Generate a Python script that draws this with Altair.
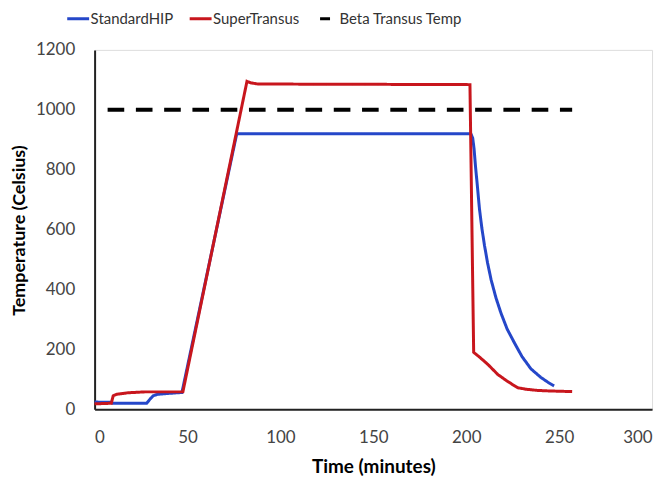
import altair as alt
import pandas as pd

# StandardHIP series (time in minutes, temperature in Celsius)
std_t = [0, 9, 9.5, 28, 30, 31.5, 34, 40, 47, 76.5, 90, 150, 202.5, 203.5, 204.2, 205,
         206, 207.1, 208.4, 209.8, 211.5, 213.4, 216, 218.7, 222, 225.9, 230, 234.8,
         240, 244, 247.3]
std_v = [24, 23, 20, 20, 35, 45, 50, 53, 56, 920, 920, 920, 920, 905, 870, 810,
         745, 670, 605, 548, 488, 432, 372, 321, 268, 222, 176, 135,
         107, 90, 78]

# SuperTransus series
sup_t = [0, 9, 10, 12, 18, 27, 47.5, 82, 84, 88, 150, 202, 204, 207, 211.6, 217,
         222, 227.6, 232, 238, 245, 257]
sup_v = [18, 20, 45, 50, 55, 58, 58, 1095, 1090, 1086, 1085, 1084, 190, 175, 150, 116,
         94, 72, 67, 63, 61, 59]

# Beta transus temperature reference line
beta_t = [7, 257]
beta_v = [1000, 1000]

series = ["StandardHIP", "SuperTransus", "Beta Transus Temp"]
colors = ["#2547c9", "#c8161d", "#000000"]
legend_dashes = [[1, 0], [1, 0], [0, 4, 10, 40]]
x_ticks = [0, 50, 100, 150, 200, 250, 300]
y_ticks = [0, 200, 400, 600, 800, 1000, 1200]

df_lines = pd.concat([
    pd.DataFrame({"t": std_t, "v": std_v, "s": series[0]}),
    pd.DataFrame({"t": sup_t, "v": sup_v, "s": series[1]}),
], ignore_index=True)
df_beta = pd.DataFrame({"t": beta_t, "v": beta_v, "s": series[2]})

FONT = "Lato"

legend = alt.Legend(
    orient="none", legendX=-29, legendY=-44, direction="horizontal", title=None,
    padding=0,
    symbolType="stroke", symbolSize=484, symbolStrokeWidth=3,
    labelFont=FONT, labelFontSize=15, labelColor="#333333",
    columnPadding=10, labelOffset=0,
    labelExpr="datum.label == 'Beta Transus Temp' ? '\u00a0\u00a0\u00a0' + datum.label : datum.label",
)

xenc = alt.X("t:Q", scale=alt.Scale(domain=[0, 300], nice=False),
             axis=alt.Axis(values=x_ticks, grid=False, ticks=False, tickSize=0, format="d",
                           labelPadding=20, labelFont=FONT, labelFontSize=17,
                           labelColor="#444444", domainColor="#222222", domainWidth=2,
                           title="Time (minutes)", titleFont=FONT, titleFontSize=19,
                           titleFontWeight="bold", titleColor="#000000",
                           titleX=280, titleY=58, titleBaseline="middle", titleAlign="center"))
yenc = alt.Y("v:Q", scale=alt.Scale(domain=[0, 1200], nice=False),
             axis=alt.Axis(values=y_ticks, grid=False, ticks=False, tickSize=0, format="d",
                           labelPadding=20, labelFont=FONT, labelFontSize=17,
                           labelColor="#444444", domainColor="#222222", domainWidth=2,
                           title="Temperature (Celsius)", titleFont=FONT, titleFontSize=18,
                           titleFontWeight="bold", titleColor="#000000",
                           titleAngle=-90, titleX=-75, titleY=181,
                           titleBaseline="middle", titleAlign="center"))
cenc = alt.Color("s:N", scale=alt.Scale(domain=series, range=colors), legend=legend)
denc = alt.StrokeDash("s:N", scale=alt.Scale(domain=series, range=legend_dashes), legend=legend)

lines = alt.Chart(df_lines).mark_line(strokeWidth=3).encode(
    x=xenc, y=yenc, color=cenc, strokeDash=denc)
beta = alt.Chart(df_beta).mark_line(strokeWidth=4, strokeDash=[16.7, 11.7]).encode(
    x=xenc, y=yenc, color=cenc)

chart = alt.layer(lines, beta).properties(
    width=560, height=361,
    autosize=alt.AutoSizeParams(type="none"),
    padding={"left": 87, "top": 41, "right": 12, "bottom": 70},
).configure_view(stroke=None).configure(background="white")

chart.save("out.html", embed_options={"renderer": "svg", "actions": False})
